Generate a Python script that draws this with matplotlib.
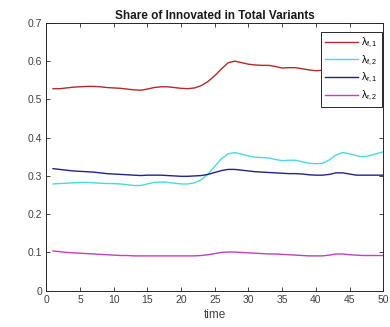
import numpy as np
import matplotlib
matplotlib.use("Agg")
import matplotlib.pyplot as plt

plt.rcParams['font.family'] = ['Liberation Sans', 'DejaVu Sans']
plt.rcParams['mathtext.fontset'] = 'custom'
plt.rcParams['mathtext.rm'] = 'Liberation Sans'
plt.rcParams['mathtext.it'] = 'Liberation Sans'

time = np.arange(1, 51)

lambda_f1 = [0.528, 0.528, 0.530, 0.532, 0.533, 0.534, 0.534, 0.533, 0.531, 0.530,
             0.529, 0.527, 0.525, 0.524, 0.527, 0.531, 0.533, 0.533, 0.531, 0.529,
             0.528, 0.530, 0.536, 0.547, 0.562, 0.580, 0.596, 0.600, 0.596, 0.592,
             0.590, 0.589, 0.589, 0.586, 0.582, 0.583, 0.583, 0.580, 0.577, 0.575,
             0.576, 0.580, 0.583, 0.585, 0.583, 0.586, 0.590, 0.594, 0.598, 0.601]
lambda_f2 = [0.279, 0.280, 0.281, 0.282, 0.283, 0.283, 0.282, 0.281, 0.280, 0.280,
             0.279, 0.277, 0.275, 0.275, 0.279, 0.283, 0.284, 0.283, 0.281, 0.279,
             0.279, 0.282, 0.290, 0.305, 0.325, 0.345, 0.358, 0.361, 0.357, 0.352,
             0.349, 0.348, 0.347, 0.343, 0.340, 0.341, 0.341, 0.337, 0.333, 0.332,
             0.333, 0.342, 0.355, 0.361, 0.358, 0.353, 0.350, 0.353, 0.358, 0.363]
lambda_r1 = [0.319, 0.317, 0.315, 0.313, 0.312, 0.311, 0.310, 0.308, 0.306, 0.305,
             0.304, 0.303, 0.302, 0.301, 0.302, 0.302, 0.302, 0.301, 0.300, 0.299,
             0.299, 0.300, 0.301, 0.304, 0.309, 0.314, 0.317, 0.317, 0.315, 0.313,
             0.311, 0.310, 0.309, 0.308, 0.307, 0.306, 0.306, 0.305, 0.303, 0.302,
             0.302, 0.304, 0.308, 0.308, 0.305, 0.302, 0.302, 0.302, 0.302, 0.302]
lambda_r2 = [0.104, 0.102, 0.100, 0.099, 0.098, 0.097, 0.096, 0.095, 0.094, 0.093,
             0.092, 0.092, 0.091, 0.091, 0.091, 0.091, 0.091, 0.091, 0.091, 0.091,
             0.091, 0.091, 0.092, 0.094, 0.097, 0.100, 0.101, 0.101, 0.100, 0.099,
             0.098, 0.097, 0.096, 0.096, 0.095, 0.094, 0.093, 0.092, 0.091, 0.091,
             0.091, 0.093, 0.096, 0.096, 0.094, 0.093, 0.092, 0.092, 0.092, 0.092]

labels = [r'$\lambda_{f,1}$', r'$\lambda_{f,2}$', r'$\lambda_{r,1}$', r'$\lambda_{r,2}$']
colors = ['#b22a2a', '#45dcdc', '#22228c', '#c23ec2']
x_ticks = list(range(0, 51, 5))
y_ticks = [0, 0.1, 0.2, 0.3, 0.4, 0.5, 0.6, 0.7]

fig = plt.figure(figsize=(3.9, 3.27), dpi=100)
ax = fig.add_axes([0.1187, 0.111, 0.864, 0.819])

for series, lab, col in zip([lambda_f1, lambda_f2, lambda_r1, lambda_r2], labels, colors):
    ax.plot(time, series, color=col, lw=1.0, label=lab)

ax.set_xlim(0, 50)
ax.set_ylim(0, 0.7)
ax.set_xticks(x_ticks)
ax.set_yticks(y_ticks)
ax.set_yticklabels(['0', '0.1', '0.2', '0.3', '0.4', '0.5', '0.6', '0.7'])
ax.tick_params(direction='in', top=True, right=True, length=3, width=0.6,
               labelsize=7.5, colors='#262626', labelcolor='#404040', pad=3)
for sp in ax.spines.values():
    sp.set_color('#262626')
    sp.set_linewidth(0.7)

ax.set_xlabel('time', fontsize=8.5, color='#404040', labelpad=3)
ax.set_title('Share of Innovated in Total Variants', fontsize=8.5,
             fontweight='bold', color='#1a1a1a', pad=3)

leg = ax.legend(loc='upper right', bbox_to_anchor=(0.995, 0.965), fontsize=7.5,
                frameon=True, fancybox=False, handlelength=3.2, borderpad=0.35,
                labelspacing=0.32, handletextpad=0.3, borderaxespad=0.0)
leg.get_frame().set_edgecolor('#262626')
leg.get_frame().set_linewidth(0.7)
leg.get_frame().set_alpha(1)

fig.savefig('out.png', dpi=100)
